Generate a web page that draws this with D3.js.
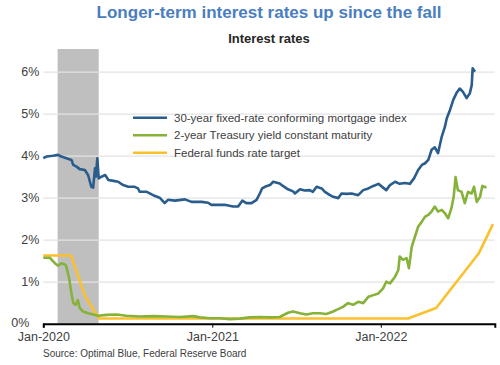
<!DOCTYPE html>
<html><head><meta charset="utf-8">
<script src="https://cdn.jsdelivr.net/npm/d3@7"></script>
<style>body{margin:0;background:#fff}svg{display:block;font-family:"Liberation Sans",Arial,sans-serif}</style>
</head><body><svg id="c" width="500" height="365"></svg>
<script>
const title = "Longer-term interest rates up since the fall";
const subtitle = "Interest rates";
const source = "Source: Optimal Blue, Federal Reserve Board";
const seriesNames = ["30-year fixed-rate conforming mortgage index", "2-year Treasury yield constant maturity", "Federal funds rate target"];
const seriesColors = ["#2a5d8d", "#86b23a", "#fbc02d"];
const yTicks = [0, 1, 2, 3, 4, 5, 6];
const xTicks = ["2020-01-01", "2021-01-01", "2022-01-01"];
const recession = ["2020-02-01", "2020-04-30"];

const mortgage = [
["2020-01-01",3.94],["2020-01-08",3.98],["2020-01-22",4.00],["2020-02-02",4.02],["2020-02-09",3.98],["2020-02-20",3.94],
["2020-03-02",3.90],["2020-03-06",3.78],["2020-03-13",3.74],["2020-03-20",3.68],["2020-03-31",3.66],["2020-04-07",3.54],
["2020-04-14",3.26],["2020-04-18",3.24],["2020-04-22",3.70],["2020-04-24",3.50],["2020-04-27",3.94],["2020-04-30",3.46],
["2020-05-06",3.50],["2020-05-14",3.54],["2020-05-21",3.42],["2020-06-01",3.40],["2020-06-11",3.38],["2020-06-22",3.30],
["2020-07-03",3.26],["2020-07-17",3.26],["2020-07-24",3.22],["2020-07-28",3.14],["2020-08-12",3.14],["2020-08-26",3.06],
["2020-09-09",3.00],["2020-09-20",2.87],["2020-09-27",2.95],["2020-10-12",2.93],["2020-11-03",2.96],["2020-11-17",2.90],
["2020-12-09",2.90],["2020-12-23",2.88],["2020-12-30",2.83],["2021-01-14",2.83],["2021-01-28",2.83],["2021-02-15",2.79],
["2021-02-26",2.79],["2021-03-07",2.93],["2021-03-16",2.87],["2021-03-27",2.87],["2021-04-07",2.95],["2021-04-14",3.10],
["2021-04-19",3.22],["2021-04-25",3.26],["2021-05-06",3.30],["2021-05-13",3.38],["2021-05-27",3.34],["2021-06-03",3.28],
["2021-06-14",3.20],["2021-06-25",3.15],["2021-06-29",3.10],["2021-07-10",3.20],["2021-07-20",3.17],["2021-07-31",3.18],
["2021-08-07",3.14],["2021-08-15",3.26],["2021-08-26",3.22],["2021-09-02",3.14],["2021-09-13",3.06],["2021-09-20",3.02],
["2021-10-01",2.99],["2021-10-08",3.10],["2021-10-19",3.09],["2021-10-30",3.10],["2021-11-13",3.06],["2021-11-24",3.18],
["2021-12-05",3.22],["2021-12-16",3.28],["2021-12-27",3.33],["2022-01-06",3.24],["2022-01-13",3.18],["2022-01-21",3.30],
["2022-02-01",3.38],["2022-02-11",3.33],["2022-02-22",3.35],["2022-03-05",3.33],["2022-03-14",3.46],["2022-03-23",3.66],
["2022-03-31",3.78],["2022-04-07",3.82],["2022-04-14",3.90],["2022-04-21",4.14],["2022-04-28",4.20],["2022-05-05",4.06],
["2022-05-13",4.45],["2022-05-20",4.69],["2022-05-24",4.89],["2022-05-31",5.09],["2022-06-07",5.33],["2022-06-14",5.49],
["2022-06-21",5.60],["2022-06-28",5.52],["2022-07-06",5.37],["2022-07-13",5.49],["2022-07-17",5.68],["2022-07-19",6.08],
["2022-07-24",6.00]
];

const treasury = [
["2020-01-01",1.57],["2020-01-15",1.57],["2020-01-26",1.44],["2020-02-02",1.38],["2020-02-09",1.44],["2020-02-17",1.41],
["2020-02-20",1.36],["2020-02-26",1.08],["2020-03-02",0.72],["2020-03-06",0.49],["2020-03-11",0.45],["2020-03-16",0.56],
["2020-03-20",0.37],["2020-03-27",0.29],["2020-04-07",0.25],["2020-04-18",0.22],["2020-04-29",0.19],["2020-05-17",0.21],
["2020-06-08",0.22],["2020-06-29",0.19],["2020-07-28",0.17],["2020-08-26",0.18],["2020-09-24",0.17],["2020-10-23",0.16],
["2020-11-21",0.18],["2020-12-05",0.15],["2020-12-27",0.13],["2021-01-17",0.13],["2021-02-08",0.11],["2021-03-02",0.12],
["2021-03-23",0.15],["2021-04-14",0.16],["2021-05-06",0.15],["2021-05-27",0.16],["2021-06-14",0.26],["2021-06-25",0.29],
["2021-07-10",0.25],["2021-07-24",0.22],["2021-08-07",0.25],["2021-08-22",0.25],["2021-09-05",0.23],["2021-09-20",0.29],
["2021-09-27",0.33],["2021-10-11",0.40],["2021-10-22",0.49],["2021-11-02",0.45],["2021-11-13",0.52],["2021-11-24",0.49],
["2021-12-05",0.64],["2021-12-16",0.68],["2021-12-27",0.72],["2022-01-06",0.84],["2022-01-13",1.00],["2022-01-21",0.96],
["2022-02-01",1.12],["2022-02-08",1.28],["2022-02-11",1.60],["2022-02-18",1.52],["2022-02-26",1.56],["2022-03-03",1.32],
["2022-03-09",1.83],["2022-03-16",2.07],["2022-03-23",2.31],["2022-03-31",2.43],["2022-04-07",2.55],["2022-04-14",2.59],
["2022-04-21",2.67],["2022-04-28",2.79],["2022-05-05",2.67],["2022-05-13",2.71],["2022-05-20",2.63],["2022-05-27",2.51],
["2022-06-03",2.75],["2022-06-08",3.02],["2022-06-12",3.49],["2022-06-17",3.18],["2022-06-25",3.14],["2022-07-02",2.87],
["2022-07-09",3.14],["2022-07-17",3.10],["2022-07-22",3.26],["2022-07-28",2.90],["2022-08-04",3.02],["2022-08-09",3.28],
["2022-08-15",3.25],["2022-08-18",3.26]
];

const fedFunds = [
["2020-01-01",1.625],["2020-03-01",1.625],["2020-04-01",0.64],["2020-05-01",0.125],["2022-03-01",0.125],
["2022-05-01",0.375],["2022-08-01",1.67],["2022-09-01",2.37]
];

const svg = d3.select("#c");
const parse = d3.timeParse("%Y-%m-%d");
const pLeft = 43.3, pRight = 494.8, pTop = 49, pBottom = 323.7;
const x = d3.scaleTime().domain([parse("2020-01-01"), parse("2022-09-05")]).range([pLeft, pRight]);
const y = d3.scaleLinear().domain([0, 6]).range([pBottom, 71.7]);

svg.append("text").attr("x", 269).attr("y", 17.5).attr("text-anchor", "middle")
  .attr("font-size", 17).attr("font-weight", "bold").attr("fill", "#4a7ec0").text(title);
svg.append("text").attr("x", 269).attr("y", 43).attr("text-anchor", "middle")
  .attr("font-size", 13).attr("font-weight", "bold").attr("fill", "#262626").text(subtitle);

// recession band
svg.append("rect").attr("x", x(parse(recession[0]))).attr("y", pTop)
  .attr("width", x(parse(recession[1])) - x(parse(recession[0]))).attr("height", pBottom - pTop)
  .attr("fill", "#bfbfbf");

// y grid + labels
const yAxis = svg.append("g").attr("transform", `translate(${pLeft},0)`)
  .call(d3.axisLeft(y).tickValues(yTicks).tickFormat(d => d + "%").tickSize(-(pRight - pLeft)).tickPadding(4));
yAxis.select(".domain").remove();
yAxis.selectAll(".tick line").attr("stroke", "#e3e3e3").attr("stroke-width", 1.2)
  .filter(d => d === 0).remove();
yAxis.selectAll(".tick text").attr("font-size", 12.5).attr("fill", "#404040")
  .attr("font-family", "Liberation Sans, Arial, sans-serif");
yAxis.selectAll(".tick text").filter(d => d === 0).attr("x", -14).attr("dy", "0.2em");

// lines
const line = d3.line().x(d => x(parse(d[0]))).y(d => y(d[1]));
const lineSeries = [mortgage, treasury, fedFunds];
[2, 1, 0].forEach(i => {
  svg.append("path").datum(lineSeries[i]).attr("d", line).attr("fill", "none")
    .attr("stroke", seriesColors[i]).attr("stroke-width", 2.6).attr("stroke-linejoin", "round");
});

// x axis
const xAxis = svg.append("g").attr("transform", `translate(0,${pBottom})`)
  .call(d3.axisBottom(x).tickValues(xTicks.map(parse)).tickFormat(d3.timeFormat("%b-%Y")).tickSizeOuter(0).tickSize(4).tickPadding(4));
xAxis.select(".domain").attr("stroke", "#000").attr("stroke-width", 2);
xAxis.selectAll(".tick line").attr("stroke", "#000");
xAxis.selectAll(".tick text").attr("font-size", 12.5).attr("fill", "#404040")
  .attr("font-family", "Liberation Sans, Arial, sans-serif");

// legend
const lg = svg.append("g");
seriesNames.forEach((n, i) => {
  const ly = 117.7 + i * 17.5;
  lg.append("line").attr("x1", 133).attr("x2", 167).attr("y1", ly).attr("y2", ly)
    .attr("stroke", seriesColors[i]).attr("stroke-width", 2.6);
  lg.append("text").attr("x", 174).attr("y", ly).attr("dy", "0.35em").attr("font-size", 11.5)
    .attr("fill", "#404040").text(n);
});

svg.append("text").attr("x", 43).attr("y", 357).attr("font-size", 10).attr("fill", "#404040").text(source);
</script></body></html>
